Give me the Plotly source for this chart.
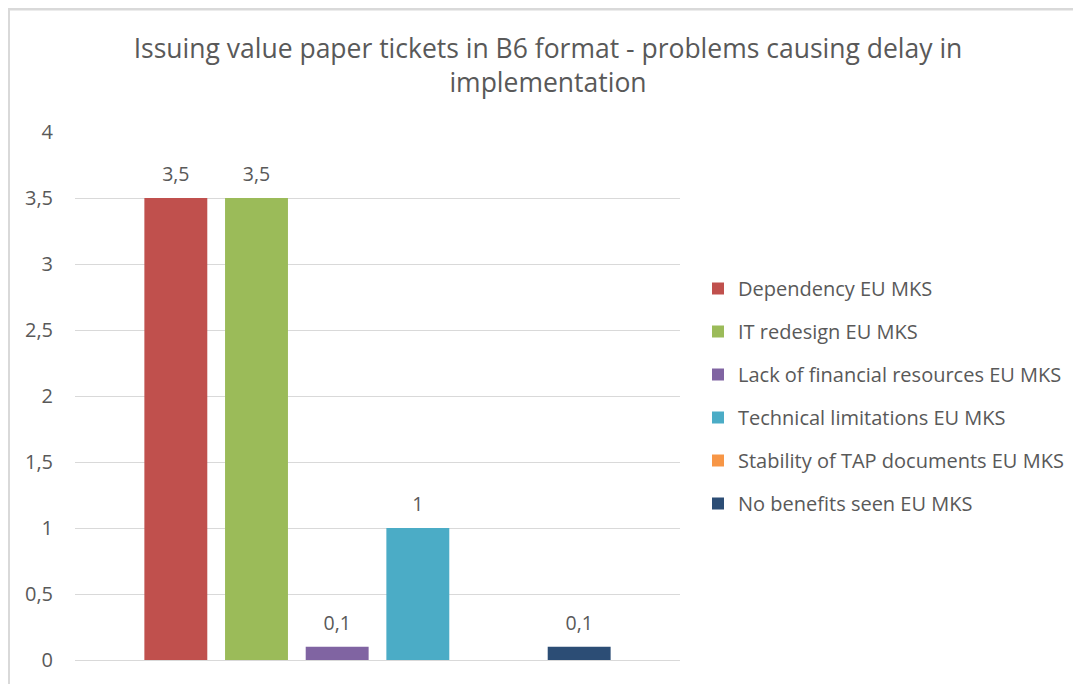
import plotly.graph_objects as go

series = ["Dependency EU MKS", "IT redesign EU MKS", "Lack of financial resources EU MKS",
          "Technical limitations EU MKS", "Stability of TAP documents EU MKS", "No benefits seen EU MKS"]
values = [3.5, 3.5, 0.1, 1, 0, 0.1]
colors = ["#C0504D", "#9BBB59", "#8064A2", "#4BACC6", "#F79646", "#2C4D75"]
category = [""]
yticks = [0, 0.5, 1, 1.5, 2, 2.5, 3, 3.5, 4]

def fmt(v):
    return ("%g" % v).replace(".", ",")

FONT = "Open Sans"
GRAY = "#595959"

# page body has an 8px offset; compensate in margins
L, T, PW, PH = 67, 124, 605, 528
R = 1081 - L - PW
B = 684 - T - PH

fig = go.Figure()
for name, v, c in zip(series, values, colors):
    fig.add_trace(go.Bar(
        x=category, y=[v], name=name, marker=dict(color=c, line=dict(width=0)),
        legendgroup=name, hoverinfo="name+y",
    ))
# data labels, grouped like the bars
for name, v in zip(series, values):
    fig.add_trace(go.Scatter(
        x=category, y=[v], mode="markers+text", text=[fmt(v) if v else ""],
        textposition="top center", marker=dict(size=18, opacity=0),
        textfont=dict(family=FONT, size=19.5, color=GRAY),
        showlegend=False, legendgroup=name, hoverinfo="skip", cliponaxis=False,
    ))

fig.update_layout(
    width=1081, height=684,
    margin=dict(l=L, r=R, t=T, b=B),
    paper_bgcolor="white", plot_bgcolor="white",
    separators=", ",
    barmode="group", bargap=0.2, bargroupgap=0.22,
    scattermode="group", scattergap=0.2,
    title=dict(text="Issuing value paper tickets in B6 format - problems causing delay in<br>implementation",
               x=(548 - 8) / 1081, xanchor="center", y=1 - 50 / 684, yanchor="top",
               font=dict(family=FONT, size=26.5, color=GRAY)),
    font=dict(family=FONT, color=GRAY),
    legend=dict(x=(698 - 8 - L) / PW, xanchor="left", y=0.5, yanchor="middle",
                font=dict(family=FONT, size=20, color=GRAY),
                tracegroupgap=14, bgcolor="rgba(0,0,0,0)"),
    showlegend=True,
)
fig.update_xaxes(showticklabels=False, showgrid=False, zeroline=False, showline=False, ticks="")
fig.update_yaxes(range=[0, 4], tickvals=yticks, ticktext=[fmt(t) for t in yticks],
                 showgrid=True, gridcolor="#D9D9D9", gridwidth=1, zeroline=True,
                 zerolinecolor="#D9D9D9", zerolinewidth=1, showline=False,
                 tickfont=dict(family=FONT, size=20, color=GRAY), ticks="", ticklabelstandoff=21)

# chart frame (Excel chart border)
ytop = 1 + (T - 1) / PH
fig.add_shape(type="line", xref="paper", yref="paper",
              x0=-L / PW, x1=1 + R / PW, y0=ytop, y1=ytop,
              line=dict(color="#D9D9D9", width=3))
fig.add_shape(type="line", xref="paper", yref="paper",
              x0=(-L + 1) / PW, x1=(-L + 1) / PW, y0=ytop, y1=-B / PH,
              line=dict(color="#D9D9D9", width=2))

fig.write_html("out.html")
